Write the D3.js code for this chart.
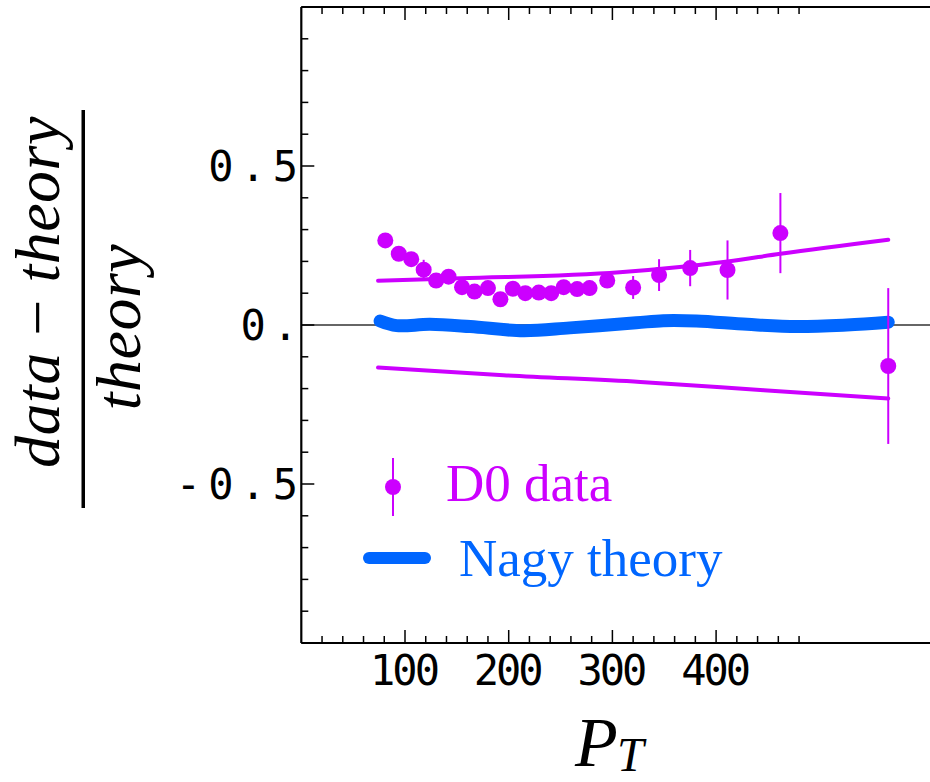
<!DOCTYPE html>
<html>
<head>
<meta charset="utf-8">
<script src="https://cdn.jsdelivr.net/npm/d3@7"></script>
<style>
  body { margin: 0; background: #fff; }
  svg { display: block; }
</style>
</head>
<body>
<div id="chart"></div>
<script>
// D0 data points: PT, relative deviation, error
var ptData  = [81, 94, 106, 118, 130, 142, 155, 167, 180, 192, 204, 216, 229, 241, 253, 266, 278, 295, 320, 345, 375, 411, 462, 566];
var devData = [0.266, 0.224, 0.207, 0.174, 0.140, 0.152, 0.119, 0.105, 0.116, 0.081, 0.114, 0.100, 0.102, 0.100, 0.119, 0.113, 0.116, 0.140, 0.118, 0.157, 0.179, 0.173, 0.289, -0.129];
var errData = [0.02, 0.02, 0.02, 0.031, 0.02, 0.02, 0.02, 0.02, 0.02, 0.02, 0.02, 0.02, 0.02, 0.02, 0.02, 0.02, 0.024, 0.02, 0.036, 0.05, 0.057, 0.093, 0.126, 0.245];

// Nagy theory curve
var theoryPt  = [76, 92, 124, 163, 214, 259, 323, 349, 381, 430, 478, 526, 566];
var theoryDev = [0.0126, -0.002, 0.002, -0.005, -0.018, -0.009, 0.007, 0.0136, 0.0126, 0.002, -0.005, 0.0, 0.0085];

// systematic band edges
var upperPt  = [74, 154, 307, 411, 462, 566];
var upperDev = [0.139, 0.147, 0.166, 0.200, 0.224, 0.268];
var lowerPt  = [74, 195, 327, 446, 566];
var lowerDev = [-0.134, -0.158, -0.179, -0.205, -0.231];

var xMajor = [100, 200, 300, 400];
var xMinor = d3.range(20, 500, 20);
var yMajor = [-0.5, 0, 0.5];
var yLabels = ["-0.5", "0.", "0.5"];
var yMinor = d3.range(-10, 11).map(function(d) { return d / 10; });

var magenta = "#cc00ff",
    blue = "#0066ff";

var width = 930,
    height = 782;

var svg = d3.select("#chart")
  .append("svg")
  .attr("width", width)
  .attr("height", height);

var x = d3.scaleLinear().domain([0, 610]).range([301.3, 301.3 + 610 * 1.037]);
var y = d3.scaleLinear().domain([-1, 1]).range([643, 7]);

var x0 = x(0), xEnd = x(610);

// zero line
svg.append("line")
  .attr("x1", x0).attr("x2", xEnd)
  .attr("y1", y(0)).attr("y2", y(0))
  .attr("stroke", "#333").attr("stroke-width", 1.5);

// frame
var frame = svg.append("g").attr("stroke", "#000").attr("stroke-width", 2.2);
frame.append("line").attr("x1", x0).attr("x2", x0).attr("y1", y(1)).attr("y2", y(-1));
frame.append("line").attr("x1", x0).attr("x2", xEnd).attr("y1", y(1)).attr("y2", y(1));
frame.append("line").attr("x1", x0).attr("x2", xEnd).attr("y1", y(-1)).attr("y2", y(-1));

// x ticks (bottom and top)
var ticks = svg.append("g").attr("stroke", "#000").attr("stroke-width", 1.5);
xMinor.forEach(function(v) {
  var len = xMajor.indexOf(v) >= 0 ? 13 : 7;
  ticks.append("line").attr("x1", x(v)).attr("x2", x(v)).attr("y1", y(-1)).attr("y2", y(-1) - len);
  ticks.append("line").attr("x1", x(v)).attr("x2", x(v)).attr("y1", y(1)).attr("y2", y(1) + len);
});
// y ticks
yMinor.forEach(function(v) {
  var len = yMajor.indexOf(v) >= 0 ? 13 : 7;
  ticks.append("line").attr("x1", x0).attr("x2", x0 + len).attr("y1", y(v)).attr("y2", y(v));
});

// tick labels
svg.selectAll(".xlab")
  .data(xMajor)
  .enter()
  .append("text")
  .attr("class", "xlab")
  .attr("x", function(d) { return x(d) - 1.5; })
  .attr("y", 685)
  .attr("text-anchor", "middle")
  .attr("font-family", "DejaVu Sans Mono")
  .attr("font-size", 42)
  .attr("letter-spacing", -3)
  .text(function(d) { return d; });

svg.selectAll(".ylab")
  .data(yMajor)
  .enter()
  .append("text")
  .attr("class", "ylab")
  .attr("x", 305)
  .attr("y", function(d) { return y(d); })
  .attr("dy", "0.36em")
  .attr("text-anchor", "end")
  .attr("font-family", "DejaVu Sans Mono")
  .attr("font-size", 42)
  .attr("letter-spacing", 7)
  .text(function(d, i) { return yLabels[i]; });

// band lines
var line = d3.line()
  .x(function(d) { return x(d[0]); })
  .y(function(d) { return y(d[1]); })
  .curve(d3.curveMonotoneX);

svg.append("path")
  .attr("d", line(d3.zip(upperPt, upperDev)))
  .attr("fill", "none").attr("stroke", magenta).attr("stroke-width", 4).attr("stroke-linecap", "round");
svg.append("path")
  .attr("d", line(d3.zip(lowerPt, lowerDev)))
  .attr("fill", "none").attr("stroke", magenta).attr("stroke-width", 4).attr("stroke-linecap", "round");

// theory curve
svg.append("path")
  .attr("d", line.curve(d3.curveCatmullRom)(d3.zip(theoryPt, theoryDev)))
  .attr("fill", "none").attr("stroke", blue).attr("stroke-width", 13).attr("stroke-linecap", "round");

// data with error bars
var pts = d3.zip(ptData, devData, errData);
svg.selectAll(".err")
  .data(pts)
  .enter()
  .append("line")
  .attr("class", "err")
  .attr("x1", function(d) { return x(d[0]); })
  .attr("x2", function(d) { return x(d[0]); })
  .attr("y1", function(d) { return y(d[1] + d[2]); })
  .attr("y2", function(d) { return y(d[1] - d[2]); })
  .attr("stroke", magenta).attr("stroke-width", 2);

svg.selectAll(".pt")
  .data(pts)
  .enter()
  .append("circle")
  .attr("class", "pt")
  .attr("cx", function(d) { return x(d[0]); })
  .attr("cy", function(d) { return y(d[1]); })
  .attr("r", 8)
  .attr("fill", magenta);

// legend
var legend = svg.append("g");
legend.append("line")
  .attr("x1", 393).attr("x2", 393).attr("y1", 458).attr("y2", 516)
  .attr("stroke", magenta).attr("stroke-width", 2);
legend.append("circle").attr("cx", 393).attr("cy", 487).attr("r", 8).attr("fill", magenta);
legend.append("text")
  .attr("x", 446).attr("y", 501)
  .attr("font-family", "Liberation Serif").attr("font-size", 53)
  .attr("fill", magenta)
  .text("D0 data");
legend.append("line")
  .attr("x1", 369).attr("x2", 425).attr("y1", 558).attr("y2", 558)
  .attr("stroke", blue).attr("stroke-width", 12).attr("stroke-linecap", "round");
legend.append("text")
  .attr("x", 459).attr("y", 576)
  .attr("font-family", "Liberation Serif").attr("font-size", 53)
  .attr("fill", blue)
  .text("Nagy theory");

// y axis title (fraction)
var num = svg.append("text")
  .attr("transform", "translate(59,292) rotate(-90)")
  .attr("text-anchor", "middle")
  .attr("font-family", "Liberation Serif")
  .attr("font-size", 64)
  .attr("font-style", "italic")
  .attr("letter-spacing", 0.5);
num.append("tspan").text("data");
num.append("tspan").attr("font-style", "normal").text(" \u2212 ");
num.append("tspan").text("theory");

svg.append("rect")
  .attr("x", 81.5).attr("y", 110).attr("width", 3.5).attr("height", 398)
  .attr("fill", "#000");

svg.append("text")
  .attr("transform", "translate(140,327) rotate(-90)")
  .attr("text-anchor", "middle")
  .attr("font-family", "Liberation Serif")
  .attr("font-size", 64)
  .attr("font-style", "italic")
  .attr("letter-spacing", 0.5)
  .text("theory");

// x axis title
var xt = svg.append("text")
  .attr("x", 575).attr("y", 766)
  .attr("font-family", "Liberation Serif")
  .attr("font-style", "italic")
  .attr("font-size", 70);
xt.append("tspan").text("P");
xt.append("tspan").attr("x", 617).attr("y", 771).attr("font-size", 48).text("T");
</script>
</body>
</html>
